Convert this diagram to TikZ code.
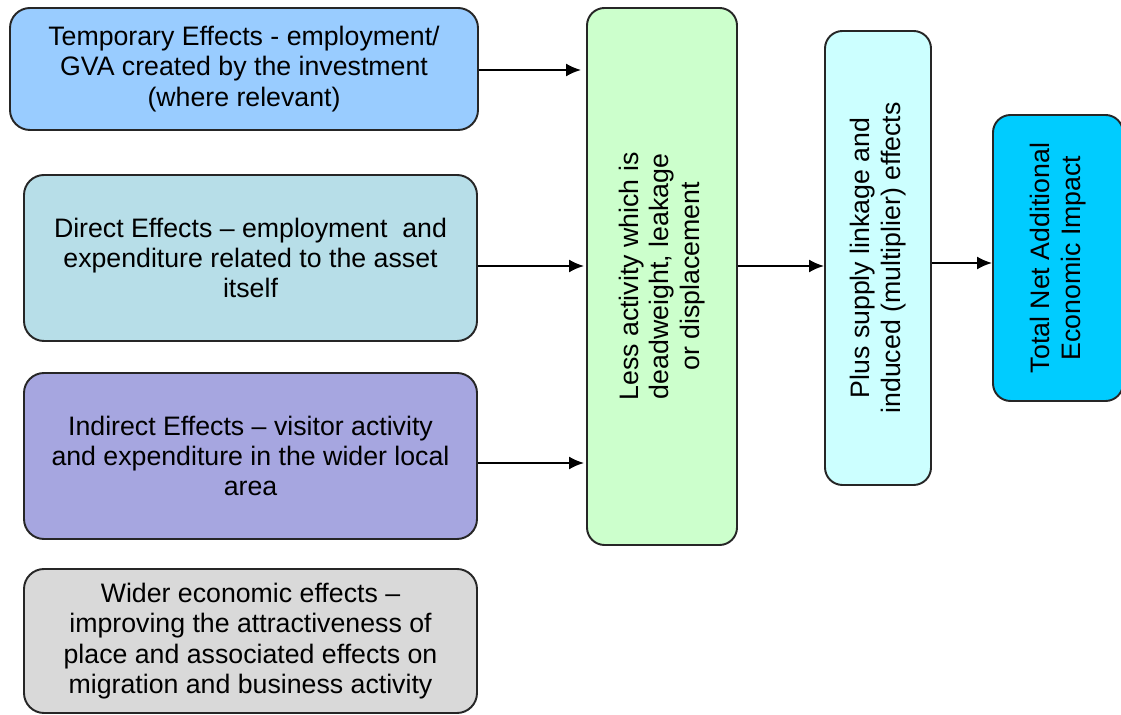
\documentclass[tikz,border=0pt]{standalone}
\usepackage{fontspec}
\setmainfont{Liberation Sans}
\usetikzlibrary{arrows.meta, positioning, calc}

\definecolor{tempblue}{HTML}{99CCFF}
\definecolor{directteal}{HTML}{B7DEE8}
\definecolor{indirectlav}{HTML}{A6A6E0}
\definecolor{widergray}{HTML}{D9D9D9}
\definecolor{lessgreen}{HTML}{CCFFCC}
\definecolor{pluscyan}{HTML}{CCFFFF}
\definecolor{totalcyan}{HTML}{00CCFF}

\begin{document}
\begin{tikzpicture}[
    effect/.style={rectangle, rounded corners=0.4cm, draw=black!85, line width=1.1pt, align=center, font=\fontsize{15.2}{17.2}\selectfont, minimum width=9.06cm, minimum height=3.32cm},
    stage/.style={rectangle, rounded corners=0.35cm, draw=black!85, line width=1.1pt, align=center, font=\fontsize{15.2}{17.2}\selectfont, rotate=90},
    arrow/.style={-{Latex[length=0.3cm, width=0.26cm]}, line width=1.1pt, draw=black}
]
    \useasboundingbox (0,0) rectangle (22.42,-14.3);

    % Effects on the left
    \node[effect, fill=tempblue, minimum width=9.36cm, minimum height=2.44cm] (temp) at (4.88,-1.38) {Temporary Effects - employment/\\GVA created by the investment\\(where relevant)};
    \node[effect, fill=directteal] (direct) at (5.01,-5.16) {Direct Effects -- employment \ and\\expenditure related to the asset\\itself};
    \node[effect, fill=indirectlav] (indirect) at (5.01,-9.12) {Indirect Effects -- visitor activity\\and expenditure in the wider local\\area};
    \node[effect, fill=widergray, minimum height=2.88cm] (wider) at (5.01,-12.82) {Wider economic effects --\\improving the attractiveness of\\place and associated effects on\\migration and business activity};

    % Adjustment stages
    \node[stage, fill=lessgreen, minimum width=10.74cm, minimum height=3.0cm] (less) at (13.24,-5.53) {Less activity which is\\deadweight, leakage\\or displacement};
    \node[stage, fill=pluscyan, minimum width=9.08cm, minimum height=2.12cm] (plus) at (17.56,-5.16) {Plus supply linkage and\\induced (multiplier) effects};
    \node[stage, fill=totalcyan, minimum width=5.72cm, minimum height=2.6cm] (total) at (21.16,-5.16) {Total Net Additional\\Economic Impact};

    % Arrows
    \draw[arrow] ([yshift=-0.02cm]temp.east) -- ([xshift=-0.1cm, yshift=-0.02cm]temp.east -| less.north);
    \draw[arrow] ([yshift=-0.16cm]direct.east) -- ([xshift=-0.04cm, yshift=-0.16cm]direct.east -| less.north);
    \draw[arrow] ([yshift=-0.14cm]indirect.east) -- ([xshift=-0.04cm, yshift=-0.14cm]indirect.east -| less.north);
    \draw[arrow] ([yshift=-0.16cm]direct.east -| less.south) -- ([yshift=-0.16cm]direct.east -| plus.north);
    \draw[arrow] ([yshift=-0.1cm]plus.south) -- ([yshift=-0.1cm]plus.south -| total.north);

\end{tikzpicture}
\end{document}
